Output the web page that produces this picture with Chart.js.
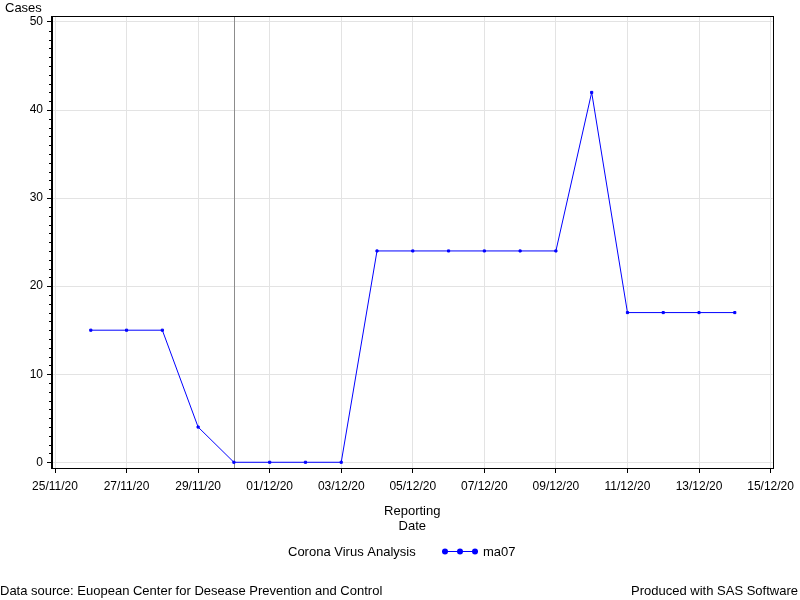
<!DOCTYPE html>
<html>
<head>
<meta charset="utf-8">
<script src="https://cdn.jsdelivr.net/npm/chart.js@4/dist/chart.umd.min.js"></script>
<style>
  body { margin: 0; background: #fff; }
  canvas { display: block; }
</style>
</head>
<body>
<canvas id="popChart" width="800" height="600"></canvas>
<script>
// data
const dates = ['26/11/20','27/11/20','28/11/20','29/11/20','30/11/20','01/12/20','02/12/20',
  '03/12/20','04/12/20','05/12/20','06/12/20','07/12/20','08/12/20','09/12/20','10/12/20',
  '11/12/20','12/12/20','13/12/20','14/12/20']
const ma07 = [15,15,15,4,0,0,0,0,24,24,24,24,24,24,42,17,17,17,17]
const xTickLabels = ['25/11/20','27/11/20','29/11/20','01/12/20','03/12/20','05/12/20',
  '07/12/20','09/12/20','11/12/20','13/12/20','15/12/20']
const yTickLabels = [0,10,20,30,40,50]
const refDate = '30/11/20'
const seriesName = 'ma07'
const legendTitle = 'Corona Virus Analysis'
const yTitle = 'Cases'
const xTitle = ['Reporting', 'Date']
const footLeft = 'Data source: Euopean Center for Desease Prevention and Control'
const footRight = 'Produced with SAS Software'

const FONT = 'Arial, "Liberation Sans", sans-serif'
Chart.defaults.font.family = FONT
Chart.defaults.font.size = 12
Chart.defaults.color = '#000'

function dayNum(s){
  let [d, m, y] = s.split('/').map(Number)
  return Date.UTC(2000 + y, m - 1, d) / 86400000
}
const day0 = dayNum(xTickLabels[0])
const xOf = s => dayNum(s) - day0

let points = []
for (let i = 0; i < dates.length; i++){
  points.push({x: xOf(dates[i]), y: ma07[i]})
}

let yMinor = []
for (let v = yTickLabels[0]; v <= yTickLabels[yTickLabels.length - 1]; v++){
  if (!yTickLabels.includes(v)) yMinor.push(v)
}

const extras = {
  id: 'extras',
  beforeDatasetsDraw(chart){
    const ctx = chart.ctx, a = chart.chartArea
    const xs = chart.scales.x
    let px = Math.round(xs.getPixelForValue(xOf(refDate))) + 0.5
    ctx.save()
    ctx.strokeStyle = '#8c8c8c'
    ctx.lineWidth = 1
    ctx.beginPath()
    ctx.moveTo(px, a.top)
    ctx.lineTo(px, a.bottom)
    ctx.stroke()
    ctx.restore()
  },
  afterDraw(chart){
    const ctx = chart.ctx, a = chart.chartArea
    const ys = chart.scales.y
    ctx.save()
    // frame
    ctx.strokeStyle = '#000'
    ctx.lineWidth = 1
    ctx.strokeRect(Math.round(a.left) - 0.5, Math.round(a.top) + 0.5,
      Math.round(a.right - a.left) + 1, Math.round(a.bottom - a.top))
    // minor y ticks
    ctx.beginPath()
    yMinor.forEach(v => {
      let py = Math.round(ys.getPixelForValue(v)) + 0.5
      ctx.moveTo(a.left - 3, py)
      ctx.lineTo(a.left, py)
    })
    ctx.stroke()
    // texts
    ctx.fillStyle = '#000'
    ctx.font = '13px ' + FONT
    ctx.textBaseline = 'middle'
    ctx.textAlign = 'left'
    ctx.fillText(yTitle, 5, 8)
    ctx.textAlign = 'center'
    let cx = (a.left + a.right) / 2
    ctx.fillText(xTitle[0], cx, 511)
    ctx.fillText(xTitle[1], cx, 526)
    // legend
    ctx.textAlign = 'left'
    ctx.fillText(legendTitle, 288, 552)
    const ds = chart.data.datasets[0]
    ctx.strokeStyle = ds.borderColor
    ctx.fillStyle = ds.borderColor
    ctx.beginPath()
    ctx.moveTo(442, 551.5)
    ctx.lineTo(478, 551.5)
    ctx.stroke()
    ;[445, 460, 475].forEach(dx => {
      ctx.beginPath()
      ctx.arc(dx, 551.5, 3, 0, Math.PI * 2)
      ctx.fill()
    })
    ctx.fillStyle = '#000'
    ctx.fillText(ds.label, 483, 552)
    // footnotes
    ctx.fillText(footLeft, 0, 591)
    ctx.textAlign = 'right'
    ctx.fillText(footRight, 798, 591)
    ctx.restore()
  }
}

new Chart(document.getElementById('popChart'), {
  type: 'line',
  data: {
    datasets: [{
      label: seriesName,
      data: points,
      borderColor: '#0000ff',
      backgroundColor: '#0000ff',
      borderWidth: 1,
      pointStyle: 'rect',
      pointRadius: 1.5,
      pointHoverRadius: 1.5,
      tension: 0
    }]
  },
  options: {
    responsive: false,
    animation: false,
    events: [],
    layout: { padding: { top: 16, right: 27, bottom: 0, left: 0 } },
    plugins: { legend: { display: false }, tooltip: { enabled: false } },
    scales: {
      x: {
        type: 'linear',
        min: -0.084,
        max: 20.056,
        afterBuildTicks: s => { s.ticks = xTickLabels.map(l => ({value: xOf(l)})) },
        afterFit: s => { s.height = 132 },
        ticks: {
          autoSkip: false,
          maxRotation: 0,
          padding: 6,
          callback: v => {
            let l = xTickLabels.find(t => xOf(t) === v)
            return l || ''
          }
        },
        grid: { color: '#e3e3e3', tickColor: '#000', tickLength: 5 },
        border: { color: '#000' }
      },
      y: {
        type: 'linear',
        min: -0.65,
        max: 50.68,
        afterBuildTicks: s => { s.ticks = yTickLabels.map(v => ({value: v})) },
        afterFit: s => { s.width = 52 },
        ticks: { autoSkip: false, padding: 4 },
        grid: { color: '#e3e3e3', tickColor: '#000', tickLength: 5 },
        border: { color: '#000' }
      }
    }
  },
  plugins: [extras]
})
</script>
</body>
</html>
